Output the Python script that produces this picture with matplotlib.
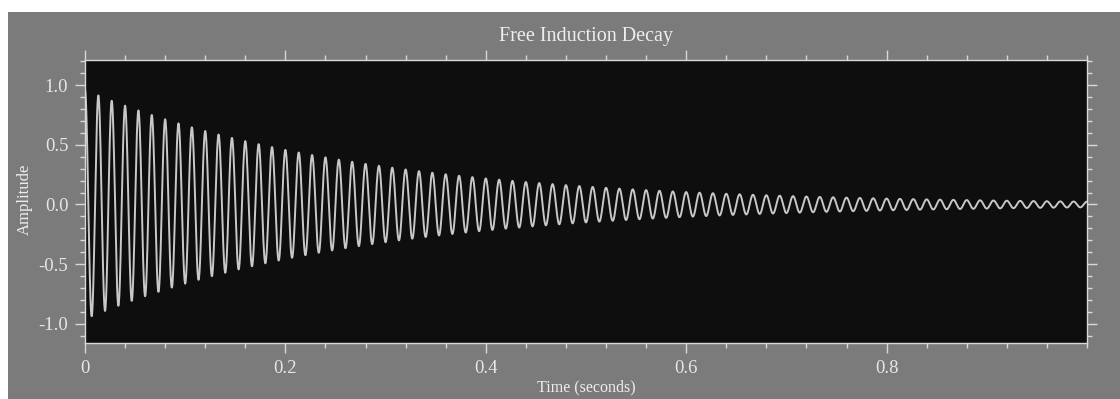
import numpy as np
import matplotlib
matplotlib.use('Agg')
import matplotlib.pyplot as plt
from matplotlib.patches import Rectangle
from matplotlib.ticker import MultipleLocator

# signal: ~75 Hz carrier, decaying from ~0.95 to ~0.03 over 1 s
freq_hz = 75.0
t2_s = 0.27
amp0 = 0.96
t_start, t_end, n_samples = 0.0, 1.0, 4000

x_ticks = [0, 0.2, 0.4, 0.6, 0.8]
x_labels = ['0', '0.2', '0.4', '0.6', '0.8']
y_ticks = [-1.0, -0.5, 0.0, 0.5, 1.0]
y_labels = ['-1.0', '-0.5', '0.0', '0.5', '1.0']

t = np.linspace(t_start, t_end, n_samples)
amplitude = amp0 * np.exp(-t / t2_s) * np.cos(2 * np.pi * freq_hz * t)

plt.rcParams['font.family'] = ['Liberation Serif', 'DejaVu Serif']

W, H = 1120, 399
fig = plt.figure(figsize=(W / 100, H / 100), dpi=100, facecolor='white')
fig.patches.append(Rectangle((8 / W, 0), 1, (H - 12) / H, transform=fig.transFigure,
                             facecolor='#7b7b7b', edgecolor='none', zorder=-10))

ax = fig.add_axes([85 / W, 1 - 343 / H, (1087 - 85) / W, (343 - 60) / H])
ax.set_zorder(1)
ax.set_facecolor('#0e0e0e')
ax.plot(t, amplitude, color='#c8c8c8', lw=1.4)

ax.set_xlim(0, 1.0)
ax.set_ylim(-1.16, 1.21)
ax.set_xticks(x_ticks)
ax.set_xticklabels(x_labels)
ax.set_yticks(y_ticks)
ax.set_yticklabels(y_labels)
ax.xaxis.set_minor_locator(MultipleLocator(0.04))
ax.yaxis.set_minor_locator(MultipleLocator(0.1))

light = '#d8d8d8'
for s in ax.spines.values():
    s.set_color(light)
    s.set_linewidth(1.0)
ax.tick_params(which='both', direction='out', colors=light, top=True, right=True,
               labelsize=13.5, labelcolor='#e6e6e6')
ax.tick_params(which='major', length=7, width=1, pad=5)
ax.tick_params(which='minor', length=3.5, width=1)

fig.text((85 + 1087) / 2 / W, 1 - 41 / H, 'Free Induction Decay', ha='center',
         va='baseline', fontsize=14.5, color='#eeeeee')
fig.text((85 + 1087) / 2 / W, 1 - 391 / H, 'Time (seconds)', ha='center',
         va='baseline', fontsize=11.5, color='#eeeeee')
fig.text(25 / W, 1 - 199 / H, 'Amplitude', ha='center', va='center', rotation=90,
         fontsize=12, color='#eeeeee')

fig.savefig('out.png', dpi=100, facecolor=fig.get_facecolor())
